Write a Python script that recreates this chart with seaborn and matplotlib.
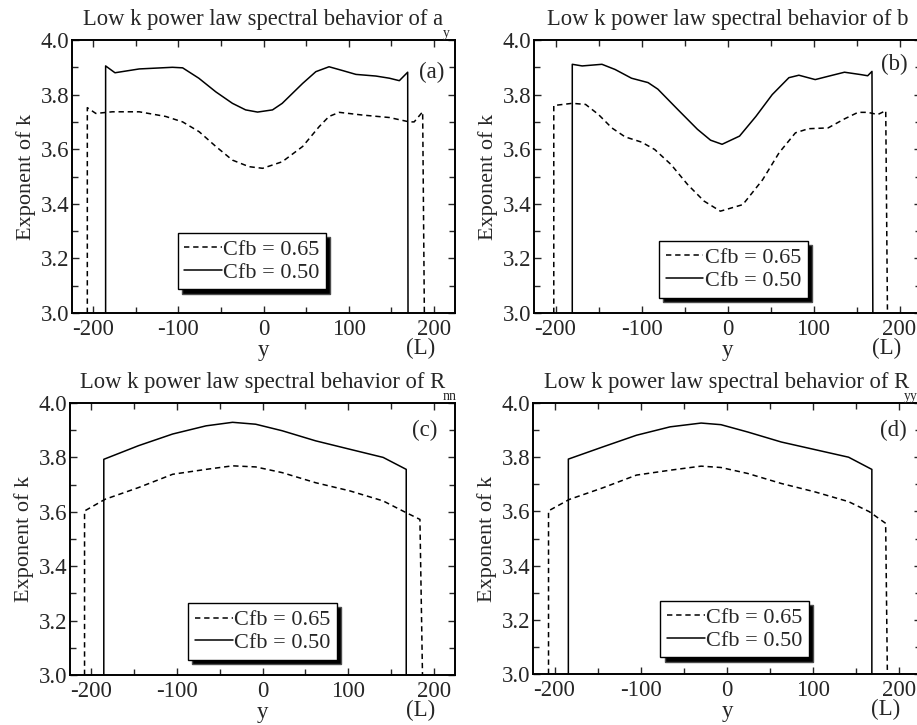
import matplotlib
matplotlib.use("Agg")
import matplotlib.pyplot as plt
import seaborn as sns
import pandas as pd

# ---------------- data ----------------
# Panel (a): a_y
a_x_050 = [-185.5, -185.5, -174.5, -146, -107, -95, -76, -56, -36.5, -21, -7, 10.6, 22, 46, 61.5,
           77, 93, 108.6, 132, 148, 159.6, 169.4, 169.8]
a_y_050 = [3.0, 3.905, 3.88, 3.894, 3.90, 3.898, 3.86, 3.81, 3.768, 3.744, 3.736, 3.744, 3.768, 3.841, 3.884,
           3.902, 3.888, 3.874, 3.868, 3.86, 3.851, 3.882, 3.0]
a_x_065 = [-207, -207, -197, -177.6, -146, -115, -95, -75.6, -56, -36.5, -17, -1, 22, 46, 65.5,
           77, 89, 116.5, 148, 171.4, 177, 187, 189]
a_y_065 = [3.0, 3.752, 3.731, 3.737, 3.737, 3.72, 3.70, 3.664, 3.61, 3.56, 3.536, 3.53, 3.554, 3.61, 3.683,
           3.72, 3.735, 3.725, 3.716, 3.70, 3.70, 3.737, 3.0]

# Panel (b): b
b_x_050 = [-180.5, -180.5, -169, -146, -130.7, -111.6, -92.4, -81, -58, -35, -19.7, -6.3, 14, 33, 52,
           71.4, 83, 102, 117, 136, 155.6, 163, 168, 169]
b_y_050 = [3.0, 3.911, 3.905, 3.911, 3.892, 3.86, 3.844, 3.82, 3.746, 3.673, 3.633, 3.618, 3.648, 3.72, 3.80,
           3.862, 3.871, 3.855, 3.867, 3.882, 3.873, 3.869, 3.885, 3.0]
b_x_065 = [-202, -202, -180.5, -165, -150, -134.5, -119, -100, -84.7, -65.7, -46.5, -27.3, -8.3, 17.8, 40.8,
           60, 79, 94, 117, 136, 151.8, 163, 174.7, 184, 186]
b_y_065 = [3.0, 3.76, 3.768, 3.764, 3.727, 3.678, 3.645, 3.626, 3.599, 3.544, 3.471, 3.41, 3.373, 3.397, 3.488,
           3.587, 3.66, 3.675, 3.678, 3.711, 3.735, 3.735, 3.727, 3.741, 3.0]

# Panel (c): R_nn
c_x_050 = [-185.5, -185.5, -145, -105, -66, -35, -8, 23, 62, 102, 141, 168, 168]
c_y_050 = [3.0, 3.793, 3.843, 3.886, 3.916, 3.929, 3.922, 3.898, 3.861, 3.83, 3.80, 3.756, 3.0]
c_x_065 = [-208, -208, -184, -145, -105, -66, -35, -8, 23, 62, 102, 141, 164, 184, 187]
c_y_065 = [3.0, 3.603, 3.646, 3.689, 3.738, 3.756, 3.769, 3.765, 3.744, 3.707, 3.677, 3.64, 3.603, 3.572, 3.0]

# Panel (d): R_yy
d_x_050 = [-184, -184, -144, -105, -66, -30, -7, 24, 63, 102, 141, 168, 168]
d_y_050 = [3.0, 3.793, 3.838, 3.881, 3.912, 3.926, 3.92, 3.893, 3.856, 3.828, 3.80, 3.755, 3.0]
d_x_065 = [-207, -207, -183, -144, -105, -66, -30, -7, 24, 63, 102, 141, 165, 184, 186]
d_y_065 = [3.0, 3.602, 3.644, 3.687, 3.734, 3.752, 3.767, 3.762, 3.74, 3.703, 3.672, 3.636, 3.599, 3.556, 3.0]

series_labels = ["Cfb = 0.65", "Cfb = 0.50"]
titles = ["Low k power law spectral behavior of a",
          "Low k power law spectral behavior of b",
          "Low k power law spectral behavior of R",
          "Low k power law spectral behavior of R"]
subscripts = ["y", "", "nn", "yy"]
panel_tags = ["(a)", "(b)", "(c)", "(d)"]
xticks = [-200, -100, 0, 100, 200]
yticks = [3.0, 3.2, 3.4, 3.6, 3.8, 4.0]

panels = [
    (a_x_065, a_y_065, a_x_050, a_y_050),
    (b_x_065, b_y_065, b_x_050, b_y_050),
    (c_x_065, c_y_065, c_x_050, c_y_050),
    (d_x_065, d_y_065, d_x_050, d_y_050),
]

# ---------------- style ----------------
sns.set_style("ticks")
plt.rcParams["font.family"] = ["Liberation Serif", "DejaVu Serif"]
plt.rcParams["axes.unicode_minus"] = False
plt.rcParams["xtick.direction"] = "in"
plt.rcParams["ytick.direction"] = "in"
plt.rcParams["xtick.top"] = True
plt.rcParams["ytick.right"] = True

fig = plt.figure(figsize=(9.17, 7.25), dpi=100)
W, H = 917.0, 725.0
# axes boxes in pixels: left, top, right, bottom
boxes = [(72, 40, 455, 313), (534, 40, 921, 313), (70, 403, 455, 675), (533, 403, 921, 674)]
tag_pos = [(0.94, 0.88), (0.93, 0.91), (0.92, 0.90), (0.93, 0.90)]
leg_pos = [(0.47, 0.19), (0.515, 0.16), (0.50, 0.16), (0.52, 0.166)]
sub_pos = [0.978, None, 0.985, 0.975]

for i, (x65, y65, x50, y50) in enumerate(panels):
    l, t, r, b = boxes[i]
    ax = fig.add_axes([l / W, (H - b) / H, (r - l) / W, (b - t) / H])
    df = pd.concat([
        pd.DataFrame({"x": x65, "y": y65, "s": series_labels[0]}),
        pd.DataFrame({"x": x50, "y": y50, "s": series_labels[1]}),
    ])
    sns.lineplot(data=df, x="x", y="y", hue="s", style="s",
                 palette={series_labels[0]: "black", series_labels[1]: "black"},
                 dashes={series_labels[0]: (3.5, 2.5), series_labels[1]: ""},
                 estimator=None, sort=False,
                 linewidth=1.1, ax=ax, legend=True)
    ax.set_xlim(-225, 225)
    ax.set_ylim(3.0, 4.0)
    ax.set_xticks(xticks)
    ax.set_xticks([-150, -50, 50, 150], minor=True)
    ax.set_yticks(yticks)
    ax.set_yticklabels([f"{v:.1f}" for v in yticks])
    ax.set_yticks([3.1, 3.3, 3.5, 3.7, 3.9], minor=True)
    ax.tick_params(which="major", length=5, width=1, labelsize=16.5, pad=2,
                   top=True, right=True, direction="in")
    ax.tick_params(axis="x", which="major", pad=4)
    ax.tick_params(which="minor", length=4, width=1, top=True, right=True, direction="in")
    for sp in ax.spines.values():
        sp.set_linewidth(1.4)
        sp.set_color("black")
    ax.set_xlabel("y", fontsize=16.5, labelpad=0)
    ax.set_ylabel("Exponent of k", fontsize=16, labelpad=3)
    ax.text(0.91, -0.13, "(L)", transform=ax.transAxes, fontsize=16.5,
            ha="center", va="center")
    ax.text(0.5, 1.037, titles[i], transform=ax.transAxes, fontsize=16.3,
            ha="center", va="bottom")
    if subscripts[i]:
        ax.text(sub_pos[i], 1.0, subscripts[i], transform=ax.transAxes, fontsize=10,
                ha="center", va="bottom")
    ax.text(tag_pos[i][0], tag_pos[i][1], panel_tags[i], transform=ax.transAxes,
            fontsize=16.5, ha="center", va="center")
    leg = ax.legend(loc="center", bbox_to_anchor=leg_pos[i], fontsize=16,
                    frameon=True, fancybox=False, handlelength=1.7,
                    handletextpad=0.05, borderpad=0.3, labelspacing=0.1,
                    borderaxespad=0, title=None,
                    shadow={"facecolor": "black", "alpha": 1.0, "ox": 3, "oy": -3})
    leg.get_frame().set_edgecolor("black")
    leg.get_frame().set_linewidth(1.0)
    leg.get_frame().set_alpha(1.0)
    for ln in leg.get_lines():
        ln.set_linewidth(1.1)

fig.savefig("out.png", dpi=100)
